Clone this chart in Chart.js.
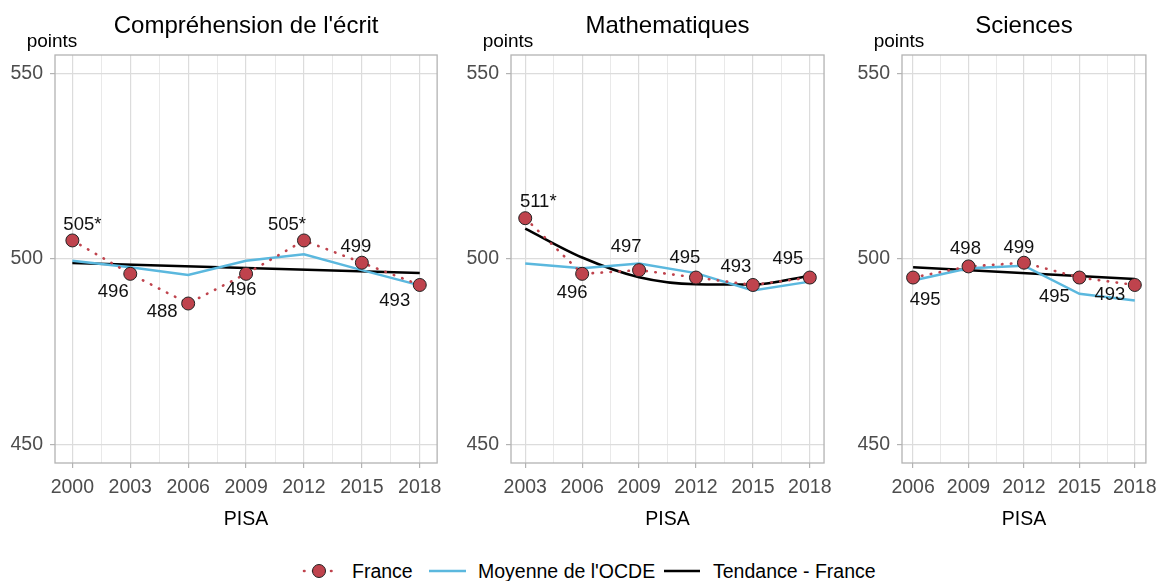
<!DOCTYPE html>
<html>
<head>
<meta charset="utf-8">
<script src="https://cdn.jsdelivr.net/npm/chart.js@4.4.0/dist/chart.umd.min.js"></script>
<style>
body { margin: 0; background: #fff; width: 1165px; height: 581px; position: relative; overflow: hidden; font-family: "Liberation Sans", Arial, sans-serif; }
.panel { position: absolute; top: 0; height: 540px; }
.lg { position: absolute; top: 560px; font-size: 19.5px; line-height: 22px; color: #000; white-space: nowrap; }
.key { position: absolute; }
</style>
</head>
<body>
<div class="panel" style="left:0;width:450px"><canvas id="reading"></canvas></div>
<div class="panel" style="left:450px;width:390px"><canvas id="math"></canvas></div>
<div class="panel" style="left:840px;width:325px"><canvas id="science"></canvas></div>

<svg class="key" style="left:300px;top:562px" width="38" height="18">
  <line x1="4" y1="9" x2="36" y2="9" stroke="#bf434d" stroke-width="2.6" stroke-dasharray="0.5 8.5" stroke-linecap="round"/>
  <circle cx="19" cy="9" r="6.5" fill="#bf434d" stroke="#222" stroke-width="1"/>
</svg>
<span class="lg" style="left:352px">France</span>
<svg class="key" style="left:429px;top:562px" width="38" height="18"><line x1="0" y1="9" x2="37" y2="9" stroke="#5bb8de" stroke-width="2.5"/></svg>
<span class="lg" style="left:478px">Moyenne de l'OCDE</span>
<svg class="key" style="left:664px;top:562px" width="38" height="18"><line x1="0" y1="9" x2="36" y2="9" stroke="#000" stroke-width="2.5"/></svg>
<span class="lg" style="left:713px">Tendance - France</span>

<script>
// Compréhension de l'écrit
var readingYears = [2000, 2003, 2006, 2009, 2012, 2015, 2018];
var readingFrance = [505, 496, 488, 496, 505, 499, 493];
var readingSig = [true, false, false, false, true, false, false];
var readingOecd = [499.5, 497.8, 495.7, 499.5, 501.3, 497.0, 492.9];
var readingTrendYears = [2000, 2018];
var readingTrend = [498.9, 496.2];

// Mathematiques
var mathYears = [2003, 2006, 2009, 2012, 2015, 2018];
var mathFrance = [511, 496, 497, 495, 493, 495];
var mathSig = [true, false, false, false, false, false];
var mathOecd = [498.8, 497.5, 498.8, 496.2, 491.5, 493.9];
var mathTrendYears = [2003, 2006, 2009, 2012, 2015, 2018];
var mathTrend = [508.2, 500.4, 495.1, 493.2, 493.1, 495.5];

// Sciences
var scienceYears = [2006, 2009, 2012, 2015, 2018];
var scienceFrance = [495, 498, 499, 495, 493];
var scienceSig = [false, false, false, false, false];
var scienceOecd = [494.2, 497.5, 498.2, 490.6, 488.8];
var scienceTrendYears = [2006, 2018];
var scienceTrend = [497.8, 494.6];

var yTicks = [450, 500, 550];

// where each value label sits relative to its point (px)
var readingLabelPos = [[10,-16],[-17,18],[-26,8],[-5,16],[-17,-16],[-6,-16],[-25,16]];
var mathLabelPos = [[13,-16],[-10,19],[-13,-23],[-11,-20],[-17,-18],[-22,-19]];
var scienceLabelPos = [[12,22],[-3,-18],[-5,-15],[-25,19],[-25,10]];

var FONT = '"Liberation Sans", Arial, sans-serif';
var RED = '#bf434d', BLUE = '#5bb8de';

function pts(xs, ys) {
    return xs.map(function (x, i) { return { x: x, y: ys[i] }; });
}

function makeChart(id, o) {
    var decor = {
        id: 'decor',
        afterDatasetsDraw: function (chart) {
            var ctx = chart.ctx;
            var meta = chart.getDatasetMeta(0);
            ctx.save();
            ctx.font = '18.5px ' + FONT;
            ctx.fillStyle = '#111';
            ctx.textAlign = 'center';
            ctx.textBaseline = 'middle';
            meta.data.forEach(function (p, i) {
                var txt = String(o.france[i]) + (o.sig[i] ? '*' : '');
                ctx.fillText(txt, p.x + o.labelPos[i][0], p.y + o.labelPos[i][1]);
            });
            ctx.restore();
        },
        afterDraw: function (chart) {
            var ctx = chart.ctx, a = chart.chartArea;
            ctx.save();
            ctx.strokeStyle = '#b3b3b3';
            ctx.lineWidth = 1.3;
            ctx.strokeRect(a.left, a.top, a.right - a.left, a.bottom - a.top);
            var cx = (a.left + a.right) / 2;
            ctx.fillStyle = '#000';
            ctx.textAlign = 'center';
            ctx.textBaseline = 'alphabetic';
            ctx.font = '24px ' + FONT;
            ctx.fillText(o.title, cx, 33);
            ctx.font = '19px ' + FONT;
            ctx.fillText('points', a.left - 3, 47);
            ctx.font = '19.5px ' + FONT;
            ctx.fillText('PISA', cx, 525);
            ctx.restore();
        }
    };

    var first = o.years[0], last = o.years[o.years.length - 1];

    return new Chart(document.getElementById(id), {
        type: 'line',
        data: {
            datasets: [{
                label: 'France',
                data: pts(o.years, o.france),
                borderColor: RED,
                borderWidth: 2.6,
                borderDash: [0.5, 8.5],
                borderCapStyle: 'round',
                pointRadius: 6.5,
                pointBackgroundColor: RED,
                pointBorderColor: '#222',
                pointBorderWidth: 1,
                tension: 0
            }, {
                label: "Moyenne de l'OCDE",
                data: pts(o.years, o.oecd),
                borderColor: BLUE,
                borderWidth: 2.5,
                pointRadius: 0,
                tension: 0
            }, {
                label: 'Tendance - France',
                data: pts(o.trendYears, o.trend),
                borderColor: '#000',
                borderWidth: 2.5,
                pointRadius: 0,
                cubicInterpolationMode: o.smooth ? 'monotone' : 'default',
                tension: 0
            }]
        },
        options: {
            responsive: true,
            maintainAspectRatio: false,
            animation: false,
            layout: { padding: { top: 55, right: o.padRight, left: 0, bottom: 0 } },
            plugins: { legend: { display: false }, tooltip: { enabled: false } },
            scales: {
                x: {
                    type: 'linear',
                    min: o.xMin,
                    max: o.xMax,
                    afterBuildTicks: function (s) {
                        var t = [];
                        for (var v = first; v <= last + 0.01; v += 1.5) t.push({ value: v });
                        s.ticks = t;
                    },
                    afterFit: function (s) { s.height = 77; },
                    border: { display: false },
                    grid: {
                        color: function (c) { return c.tick && Number.isInteger(c.tick.value) ? '#dcdcdc' : '#e9e9e9'; },
                        lineWidth: function (c) { return c.tick && Number.isInteger(c.tick.value) ? 1.2 : 1; },
                        tickLength: 5,
                        tickColor: function (c) { return c.tick && Number.isInteger(c.tick.value) ? '#b3b3b3' : 'rgba(0,0,0,0)'; }
                    },
                    ticks: {
                        autoSkip: false,
                        maxRotation: 0,
                        padding: 8,
                        color: '#4d4d4d',
                        font: { size: 19.5, family: FONT },
                        callback: function (v) { return Number.isInteger(v) ? String(v) : ''; }
                    }
                },
                y: {
                    min: 445,
                    max: 555,
                    afterBuildTicks: function (s) { s.ticks = yTicks.map(function (v) { return { value: v }; }); },
                    afterFit: function (s) { s.width = o.yWidth; },
                    border: { display: false },
                    grid: { color: '#dcdcdc', lineWidth: 1.2, tickLength: 5, tickColor: '#b3b3b3' },
                    ticks: {
                        padding: 7,
                        color: '#4d4d4d',
                        font: { size: 19.5, family: FONT },
                        callback: function (v) { return String(v); }
                    }
                }
            }
        },
        plugins: [decor]
    });
}

makeChart('reading', {
    title: "Compréhension de l'écrit",
    years: readingYears, france: readingFrance, sig: readingSig, oecd: readingOecd,
    trendYears: readingTrendYears, trend: readingTrend, smooth: false,
    labelPos: readingLabelPos, xMin: 1999.1, xMax: 2018.9, yWidth: 55, padRight: 12
});
makeChart('math', {
    title: 'Mathematiques',
    years: mathYears, france: mathFrance, sig: mathSig, oecd: mathOecd,
    trendYears: mathTrendYears, trend: mathTrend, smooth: true,
    labelPos: mathLabelPos, xMin: 2002.25, xMax: 2018.75, yWidth: 61, padRight: 11
});
makeChart('science', {
    title: 'Sciences',
    years: scienceYears, france: scienceFrance, sig: scienceSig, oecd: scienceOecd,
    trendYears: scienceTrendYears, trend: scienceTrend, smooth: false,
    labelPos: scienceLabelPos, xMin: 2005.4, xMax: 2018.6, yWidth: 62, padRight: 11
});
</script>
</body>
</html>
